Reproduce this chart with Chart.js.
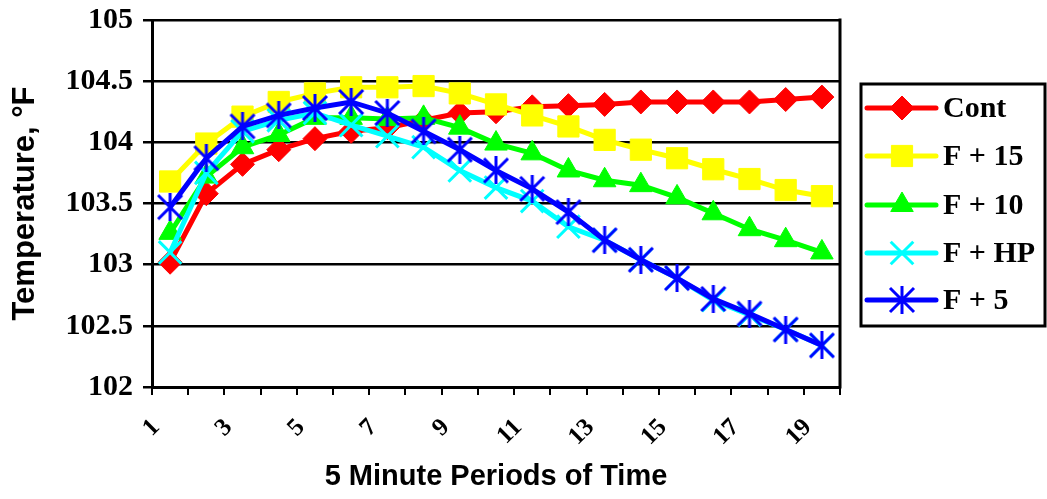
<!DOCTYPE html>
<html>
<head>
<meta charset="utf-8">
<script src="https://cdn.jsdelivr.net/npm/chart.js@4.4.1/dist/chart.umd.min.js"></script>
<style>
  html, body { margin: 0; padding: 0; background: #ffffff; }
  #wrap { width: 1047px; height: 499px; position: relative; }
</style>
</head>
<body>
<div id="wrap"><canvas id="c" width="1047" height="499"></canvas></div>
<script>
const categories = ['1','2','3','4','5','6','7','8','9','10','11','12','13','14','15','16','17','18','19'];
const seriesNames = ['Cont', 'F + 15', 'F + 10', 'F + HP', 'F + 5'];
const cont  = [103.02, 103.58, 103.82, 103.94, 104.03, 104.09, 104.12, 104.18, 104.24, 104.25, 104.29, 104.30, 104.31, 104.33, 104.33, 104.33, 104.33, 104.35, 104.37];
const f15   = [103.68, 103.99, 104.21, 104.33, 104.40, 104.45, 104.45, 104.46, 104.40, 104.31, 104.22, 104.13, 104.02, 103.94, 103.87, 103.78, 103.70, 103.61, 103.56];
const f10   = [103.26, 103.72, 103.96, 104.06, 104.20, 104.20, 104.19, 104.20, 104.12, 103.99, 103.91, 103.77, 103.69, 103.65, 103.55, 103.42, 103.29, 103.20, 103.10];
const fhp   = [103.10, 103.75, 104.09, 104.18, 104.24, 104.14, 104.05, 103.96, 103.77, 103.63, 103.52, 103.31, 103.20, 103.04, 102.89, 102.71, 102.59, 102.47, 102.34];
const f5    = [103.47, 103.87, 104.13, 104.22, 104.28, 104.33, 104.24, 104.09, 103.94, 103.77, 103.62, 103.43, 103.20, 103.04, 102.89, 102.72, 102.60, 102.47, 102.34];
const yMin = 102, yMax = 105, yStep = 0.5;

// custom blue asterisk marker (X with a vertical bar)
function makeStar(color) {
  const cv = document.createElement('canvas');
  cv.width = 28; cv.height = 28;
  const g = cv.getContext('2d');
  g.strokeStyle = color; g.lineWidth = 3; g.lineCap = 'butt';
  g.beginPath();
  g.moveTo(2, 2); g.lineTo(26, 26);
  g.moveTo(26, 2); g.lineTo(2, 26);
  g.moveTo(14, 0); g.lineTo(14, 28);
  g.stroke();
  return cv;
}
const starImg = makeStar('#0000FF');

const styles = [
  { color: '#FF0000', pointStyle: 'rectRot', radius: 12, pbw: 1, order: 5 },
  { color: '#FFFF00', pointStyle: 'rect', radius: 15, pbw: 1, order: 4 },
  { color: '#00FF00', pointStyle: 'triangle', radius: 13, pbw: 1, order: 3 },
  { color: '#00FFFF', pointStyle: 'crossRot', radius: 16, pbw: 3, order: 2 },
  { color: '#0000FF', pointStyle: starImg, radius: 14, pbw: 3, order: 1 }
];
const values = [cont, f15, f10, fhp, f5];

const datasets = seriesNames.map((name, i) => ({
  label: name,
  data: values[i],
  borderColor: styles[i].color,
  backgroundColor: styles[i].color,
  borderWidth: 5,
  pointStyle: styles[i].pointStyle,
  pointRadius: styles[i].radius,
  pointHoverRadius: styles[i].radius,
  pointBorderWidth: styles[i].pbw,
  pointBorderColor: styles[i].color,
  pointBackgroundColor: styles[i].color,
  tension: 0,
  order: styles[i].order,
  clip: false
}));

const frameAndLegend = {
  id: 'frameAndLegend',
  afterDatasetsDraw(chart) {
    const ctx = chart.ctx;
    const a = chart.chartArea;
    ctx.save();
    ctx.strokeStyle = '#000'; ctx.lineWidth = 3;
    ctx.beginPath();
    ctx.moveTo(a.right, a.top - 1.5); ctx.lineTo(a.right, a.bottom + 1.5);
    ctx.stroke();
    // legend box
    const bx = 861, by = 84, bw = 184, bh = 242;
    ctx.fillStyle = '#fff';
    ctx.fillRect(bx, by, bw, bh);
    ctx.lineWidth = 3; ctx.strokeStyle = '#000';
    ctx.strokeRect(bx, by, bw, bh);
    const rows = [108, 156, 205, 253, 300];
    seriesNames.forEach((name, i) => {
      const y = rows[i];
      const st = styles[i];
      ctx.strokeStyle = st.color; ctx.lineWidth = 5; ctx.lineCap = 'round';
      ctx.beginPath(); ctx.moveTo(867, y); ctx.lineTo(936, y); ctx.stroke();
      ctx.lineCap = 'butt';
      ctx.fillStyle = st.color; ctx.strokeStyle = st.color; ctx.lineWidth = st.pbw;
      if (Chart.helpers && Chart.helpers.drawPoint) {
        Chart.helpers.drawPoint(ctx, { pointStyle: st.pointStyle, radius: st.radius, rotation: 0, borderWidth: st.pbw }, 902, y);
      }
      ctx.fillStyle = '#000';
      ctx.font = 'bold 30px "Liberation Serif", "Times New Roman", serif';
      ctx.textBaseline = 'middle'; ctx.textAlign = 'left';
      ctx.fillText(name, 943, y + 1);
    });
    ctx.restore();
  }
};

new Chart(document.getElementById('c'), {
  type: 'line',
  data: { labels: categories, datasets },
  options: {
    responsive: false,
    animation: false,
    devicePixelRatio: 1,
    layout: { padding: { left: 0, top: 20, right: 207, bottom: 0 } },
    plugins: { legend: { display: false }, tooltip: { enabled: false } },
    scales: {
      x: {
        type: 'category',
        offset: true,
        grid: { offset: true, drawOnChartArea: false, drawTicks: true, tickLength: 8, color: '#000', lineWidth: 2 },
        border: { display: true, color: '#000', width: 3 },
        ticks: {
          autoSkip: false, maxRotation: 45, minRotation: 45, padding: 18, labelOffset: -14,
          color: '#000',
          font: { family: '"Liberation Serif", "Times New Roman", serif', weight: 'bold', size: 25 },
          callback: function(v, i) { return i % 2 === 0 ? categories[i] : ''; }
        },
        title: {
          display: true, text: '5 Minute Periods of Time', color: '#000',
          font: { family: '"Liberation Sans", Arial, sans-serif', weight: 'bold', size: 29 },
          padding: { top: 2, bottom: 5 }
        },
        afterFit(scale) { scale.height = 112; scale.paddingLeft = 0; scale.paddingRight = 0; }
      },
      y: {
        min: yMin, max: yMax,
        grid: { color: '#000', lineWidth: 2.5, drawTicks: true, tickLength: 9 },
        border: { display: true, color: '#000', width: 3 },
        ticks: {
          stepSize: yStep, padding: 10, color: '#000',
          font: { family: '"Liberation Serif", "Times New Roman", serif', weight: 'bold', size: 30 },
          callback: function(v) { return String(Math.round(v * 10) / 10); }
        },
        title: {
          display: true, text: 'Temperature, °F', color: '#000',
          font: { family: '"Liberation Sans", Arial, sans-serif', weight: 'bold', size: 31 },
          padding: { top: 7, bottom: 0 }
        },
        afterFit(scale) { scale.width = 152; scale.paddingTop = 0; scale.paddingBottom = 0; }
      }
    }
  },
  plugins: [frameAndLegend]
});
</script>
</body>
</html>
